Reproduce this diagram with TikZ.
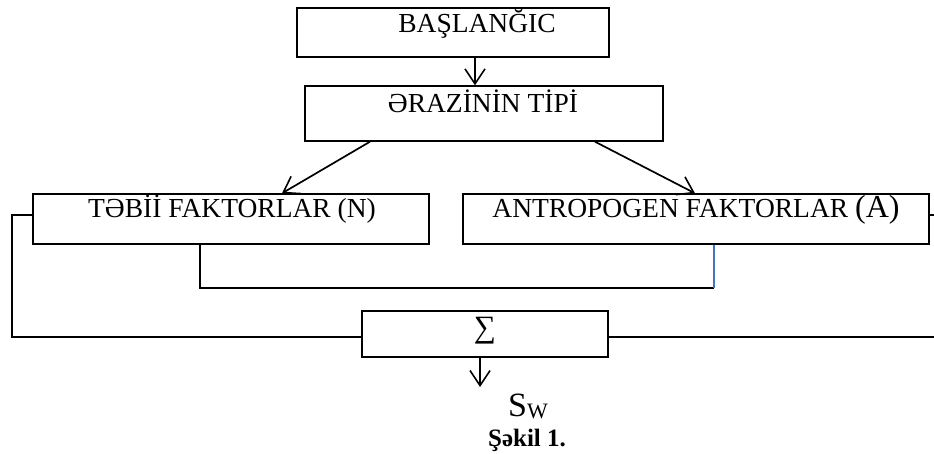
\documentclass[tikz,border=0pt]{standalone}
\usepackage{fontspec}
\setmainfont{Liberation Serif}
\usetikzlibrary{arrows.meta,calc}
\definecolor{linkblue}{RGB}{68,114,196}
\begin{document}
\begin{tikzpicture}[x=1pt,y=-1pt,
 box/.style={draw,line width=1.4pt,rectangle,inner sep=0pt},
 conn/.style={line width=1.7pt},
 arr/.style={conn,-{Straight Barb[length=15pt,width=20pt,line width=1.6pt]}},
 lbl/.style={anchor=base,inner sep=0pt,font=\fontsize{27.5}{31}\selectfont}]
\clip (0,0) rectangle (934,454);
\fill[white] (0,0) rectangle (934,454);
% boxes
\node[box,minimum width=312pt,minimum height=49pt] (start) at (453,32.5) {};
\node[box,minimum width=358pt,minimum height=55pt] (type) at (484,113.5) {};
\node[box,minimum width=396pt,minimum height=50pt] (nat) at (231,219) {};
\node[box,minimum width=466pt,minimum height=50pt] (ant) at (696,219) {};
\node[box,minimum width=246pt,minimum height=46pt] (sum) at (485,334) {};
% texts
\node[lbl] (tstart) at (477,33) {BAŞLANĞIC};
\node[lbl] (ttype) at (483,113) {ƏRAZİNİN TİPİ};
\node[lbl] (tnat) at (232,218) {TƏBİİ FAKTORLAR (N)};
\node[lbl] (tant) at (696,218) {ANTROPOGEN FAKTORLAR {\fontsize{32}{36}\selectfont (A)}};
\node[inner sep=0pt,font=\fontsize{31}{34}\selectfont] (tsum) at (485,331) {∑};
\node[anchor=base west,inner sep=0pt,font=\fontsize{34}{38}\selectfont] (sw) at (508,416) {S\raisebox{-2pt}{\fontsize{22}{24}\selectfont W}};
\node[anchor=base,inner sep=0pt,font=\bfseries\fontsize{25}{28}\selectfont] (cap) at (527,446) {Şəkil 1.};
% connectors
\coordinate (c1) at (475,0);
\draw[arr] (start.south -| c1) -- (type.north -| c1);
\coordinate (d1) at (370,0); \coordinate (d2) at (282,0);
\draw[arr] (type.south -| d1) -- (nat.north -| d2);
\coordinate (d3) at (595,0); \coordinate (d4) at (695,0);
\draw[arr] (type.south -| d3) -- (ant.north -| d4);
\coordinate (l1) at (12,215); \coordinate (l2) at (0,337);
\draw[conn] (nat.west |- l1) -- (l1) -- (l1 |- l2) -- (sum.west |- l2);
\coordinate (r1) at (945,215);
\draw[conn] (ant.east |- r1) -- (r1) -- (r1 |- l2) -- (sum.east |- l2);
\coordinate (b1) at (200,288); \coordinate (b2) at (714,288);
\draw[conn] (nat.south -| b1) -- (b1) -- (b2);
\draw[line width=1.1pt,color=linkblue] (b2) -- (ant.south -| b2);
\coordinate (o1) at (480,387);
\draw[arr,line width=1.4pt] (sum.south -| o1) -- (o1);
\end{tikzpicture}
\end{document}
